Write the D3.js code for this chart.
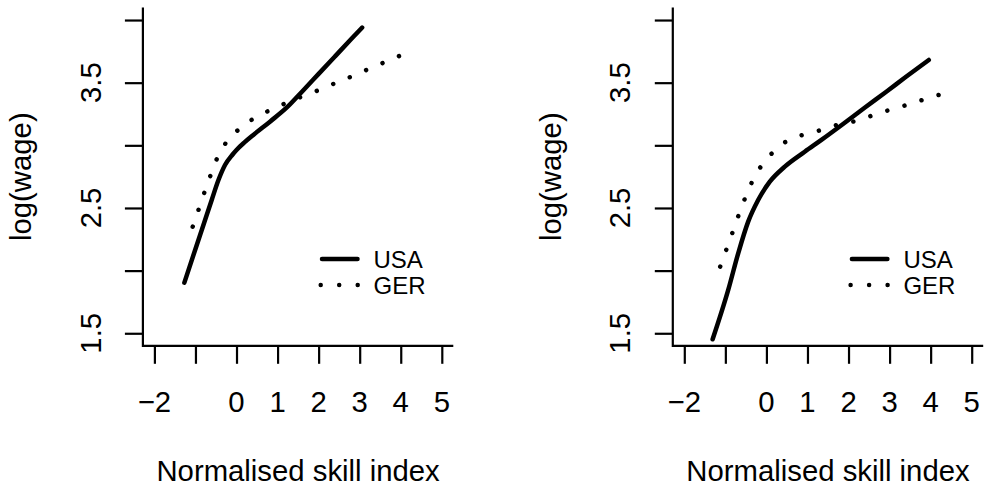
<!DOCTYPE html>
<html><head><meta charset="utf-8">
<script src="https://cdn.jsdelivr.net/npm/d3@7"></script>
<style>body{margin:0;background:#fff}svg{display:block}</style>
</head><body>
<script>
// ---- data ----
const xTicks = [-2, -1, 0, 1, 2, 3, 4, 5];
const xTickLabels = ["\u22122", "", "0", "1", "2", "3", "4", "5"];
const yTicks = [1.5, 2, 2.5, 3, 3.5, 4];
const yTickLabels = ["1.5", "", "2.5", "", "3.5", ""];
const seriesNames = ["USA", "GER"];
const xLabel = "Normalised skill index";
const yLabel = "log(wage)";

const usaLeft = [[-1.27,1.904],[-1.0,2.173],[-0.8,2.37],[-0.6,2.568],[-0.44,2.723],[-0.28,2.843],[-0.1,2.925],[0.0,2.963],[0.2,3.025],[0.41,3.083],[0.815,3.189],[1.22,3.30],[1.6,3.43],[2.0,3.57],[2.4,3.71],[2.8,3.85],[3.06,3.94]];
const gerLeft = [[-1.067,2.351],[-0.921,2.49],[-0.785,2.622],[-0.639,2.755],[-0.483,2.889],[-0.273,3.013],[0.019,3.117],[0.36,3.202],[0.742,3.269],[1.139,3.328],[1.546,3.383],[1.953,3.434],[2.357,3.49],[2.756,3.543],[3.161,3.601],[3.56,3.657],[3.965,3.713]];
const usaRight = [[-1.31,1.452],[-0.93,1.846],[-0.687,2.138],[-0.444,2.391],[-0.201,2.564],[0.083,2.71],[0.448,2.83],[0.934,2.949],[1.34,3.043],[1.826,3.16],[2.4,3.302],[2.92,3.428],[3.4,3.547],[3.955,3.681]];
const gerRight = [[-1.125,2.032],[-0.979,2.165],[-0.833,2.298],[-0.687,2.434],[-0.532,2.569],[-0.362,2.7],[-0.153,2.822],[0.124,2.933],[0.448,3.024],[0.854,3.08],[1.274,3.117],[1.687,3.16],[2.108,3.189],[2.521,3.232],[2.944,3.277],[3.365,3.317],[3.778,3.36],[4.198,3.402]];

const panels = [
  {ox: 0, usa: usaLeft, ger: gerLeft},
  {ox: 529.9, usa: usaRight, ger: gerRight}
];

// ---- drawing ----
const W = 984, H = 492;
const FONT = "'Liberation Sans', Arial, Helvetica, sans-serif";
const FS = 29.3, LFS = 24;
const svg = d3.select("body").append("svg").attr("width", W).attr("height", H)
  .style("font-family", FONT);

const dotDash = "0.01 17.84";

panels.forEach(p => {
  const g = svg.append("g");
  const x = d3.scaleLinear().domain([-2.28, 5.28]).range([p.ox + 142.9, p.ox + 453.3]);
  const y = d3.scaleLinear().domain([1.4, 4.1]).range([345.8, 7.5]);
  const [x0, x1] = x.range();
  const [yb, yt] = y.range();

  // L-shaped box
  g.append("path")
    .attr("d", `M${x0},${yt}L${x0},${yb}L${x1},${yb}`)
    .attr("fill", "none").attr("stroke", "#000").attr("stroke-width", 2.2);

  // y axis
  const ya = g.append("g").attr("transform", `translate(${x0},0)`)
    .call(d3.axisLeft(y).tickValues(yTicks).tickSize(18).tickSizeOuter(0).tickFormat(""));
  ya.select(".domain").remove();
  ya.selectAll(".tick line").attr("stroke", "#000").attr("stroke-width", 2.2);
  g.selectAll(".ylab").data(yTicks).enter().append("text")
    .attr("transform", d => `translate(${p.ox + 100.5},${y(d)}) rotate(-90)`)
    .attr("text-anchor", "middle").attr("font-size", FS).attr("fill", "#000")
    .text((d, i) => yTickLabels[i]);

  // x axis
  const xa = g.append("g").attr("transform", `translate(0,${yb})`)
    .call(d3.axisBottom(x).tickValues(xTicks).tickSize(18).tickSizeOuter(0).tickFormat(""));
  xa.select(".domain").remove();
  xa.selectAll(".tick line").attr("stroke", "#000").attr("stroke-width", 2.2);
  g.selectAll(".xlab").data(xTicks).enter().append("text")
    .attr("x", d => x(d)).attr("y", 411.5)
    .attr("text-anchor", "middle").attr("font-size", FS).attr("fill", "#000")
    .text((d, i) => xTickLabels[i]);

  // axis titles
  g.append("text").attr("x", (x0 + x1) / 2).attr("y", 480.5)
    .attr("text-anchor", "middle").attr("font-size", FS).text(xLabel);
  g.append("text")
    .attr("transform", `translate(${p.ox + 31},${(yb + yt) / 2}) rotate(-90)`)
    .attr("text-anchor", "middle").attr("font-size", FS).text(yLabel);

  // series
  g.append("path").datum(p.usa)
    .attr("d", d3.line().x(d => x(d[0])).y(d => y(d[1])).curve(d3.curveMonotoneX))
    .attr("fill", "none").attr("stroke", "#000").attr("stroke-width", 4.5)
    .attr("stroke-linecap", "round").attr("stroke-linejoin", "round");
  g.append("path").datum(p.ger)
    .attr("d", d3.line().x(d => x(d[0])).y(d => y(d[1])))
    .attr("fill", "none").attr("stroke", "#000").attr("stroke-width", 4.5)
    .attr("stroke-linecap", "round").attr("stroke-dasharray", dotDash);

  // legend
  const lg = g.append("g").attr("transform", `translate(${p.ox},0)`);
  lg.append("line").attr("x1", 322).attr("x2", 357.5).attr("y1", 259).attr("y2", 259)
    .attr("stroke", "#000").attr("stroke-width", 4.5).attr("stroke-linecap", "round");
  lg.append("line").attr("x1", 320.7).attr("x2", 358).attr("y1", 285).attr("y2", 285)
    .attr("stroke", "#000").attr("stroke-width", 4.5).attr("stroke-linecap", "round")
    .attr("stroke-dasharray", "0.01 18.49");
  lg.append("text").attr("x", 373.5).attr("y", 267.5).attr("font-size", LFS).text(seriesNames[0]);
  lg.append("text").attr("x", 373.5).attr("y", 293.8).attr("font-size", LFS).text(seriesNames[1]);
});
</script>
</body></html>
